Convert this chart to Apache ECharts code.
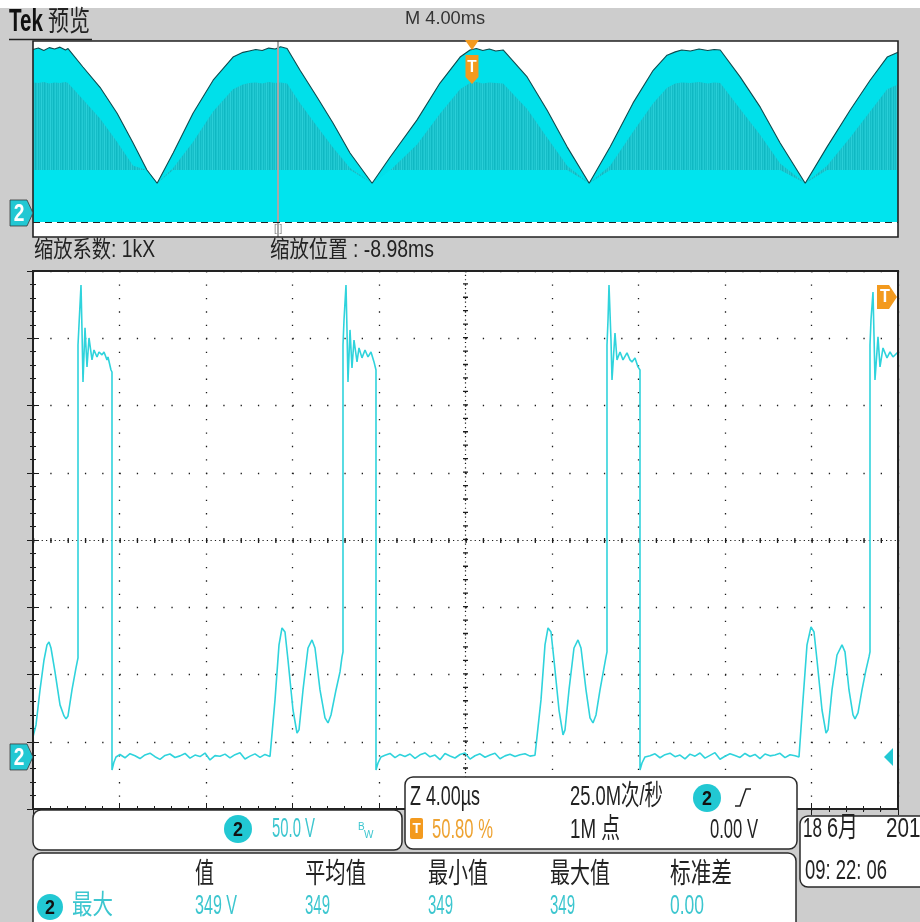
<!DOCTYPE html>
<html><head><meta charset="utf-8">
<script src="https://cdn.jsdelivr.net/npm/echarts@6/dist/echarts.min.js"></script>
<style>html,body{margin:0;padding:0;background:#cdcdcd}#c{width:920px;height:922px}</style>
</head><body><div id="c"></div>
<script>
// ===== Overview (预览) record: 40 ms, envelope of the pulse train =====
const overviewTimeMs = [0,0.25,0.5,0.75,1.0,1.25,1.5,1.62, 2.31,3.10,3.89,4.63,5.27,5.74, 6.48,7.40,8.33,9.25,9.71,
  10.0,10.3,10.6,10.9,11.2,11.45,11.75, 12.35,13.14,13.88,14.66,15.68, 16.51,17.76,18.82,19.75,
  20.21,20.5,20.8,21.1,21.4,21.74, 22.85,23.77,24.70,25.72, 26.69,27.75,28.68,29.32,
  29.7,30.0,30.4,30.8,31.2,31.5,31.78, 32.70,33.63,34.55,35.71, 36.72,37.79,38.71,39.50,40.0];
const overviewEnvelopeV = [346,349,344,350,347,351,345,348, 309,266,211,148,91,63, 127,211,281,330,340,
  343,346,344,349,347,352,348, 302,245,190,127,63, 118,197,275,330,
  345,348,344,347,343,345, 288,218,140,63, 140,233,302,334,
  341,345,343,347,344,346,345, 288,224,148,63, 140,218,281,330,340];
const overviewPlateauV = [276,275,277,274,276,275,277,275, 240,200,150,100,91,63, 95,150,215,262,272,
  275,276,274,277,275,276,274, 232,183,138,95,63, 90,145,210,262,
  275,277,274,276,275,274, 220,160,100,63, 100,172,232,265,
  274,276,275,277,274,276,275, 220,165,105,63, 100,160,215,262,272];
const overviewRingLevelV = 91;
const overviewFloorV = -19;
const overviewZoomPosMs = 11.32;
const overviewTriggerMs = 20.3;

// ===== Zoomed window: 4.00 us/div, 50.0 V/div =====
const cycle1TimeUs = [0,0.139,0.324,0.509,0.647,0.740,0.832,1.017,1.249,1.434,1.526,1.619,1.803,1.988,2.081,
  2.081,2.127,2.220,2.266,2.312,2.405,2.497,2.590,2.728,2.821,2.960,3.052,3.191,3.283,3.422,3.468,3.607,3.653,
  3.653,3.746,3.838,
  4.023,4.254,4.486,4.717,4.948,5.179,5.410,5.642,5.873,6.104,6.335,6.566,6.798,7.029,7.260,7.491,7.723,7.954,
  8.185,8.416,8.647,8.879,9.110,9.341,9.572,9.803,10.035,10.266,10.497,10.728,10.960];
const cycle1Volts = [14.9,23.8,49.8,72.1,83.3,85.5,81.0,63.2,38.7,30.5,28.3,30.5,49.8,66.2,73.6,
  306.3,321.2,350.9,317.5,278.8,319.0,290.0,311.5,295.2,302.6,297.4,301.1,298.9,301.1,295.2,297.4,287.7,286.2,
  -9.7,-3.7,0,
  1.8,-0.6,2.4,0.9,-1.2,1.5,2.8,0.2,-1.8,1.1,2.2,-0.4,0.8,2.6,-0.9,1.4,0.3,2.9,-2.2,1.0,0.5,2.1,-0.7,1.7,3.1,
  -1.5,0.6,2.3,-0.3,1.9,0.4];
const cycle2TimeUs = [11.006,11.191,11.376,11.514,11.653,11.792,12.023,12.208,12.301,12.486,12.717,12.902,13.040,
  13.272,13.503,13.642,13.780,14.012,14.197,14.289,14.335,14.335,
  14.382,14.474,14.520,14.566,14.659,14.751,14.844,14.983,15.075,15.214,15.353,15.491,15.630,15.769,15.861,
  15.861,15.954,16.092,
  16.277,16.509,16.740,16.971,17.202,17.434,17.665,17.896,18.127,18.358,18.590,18.821,19.052,19.283,19.514,
  19.746,19.977,20.208,20.439,20.671,20.902,21.133,21.364,21.595,21.827,22.058,22.289,22.520,22.751,22.983,23.214];
const cycle2Volts = [0,42.4,83.3,95.9,92.9,72.1,34.9,17.8,20.1,49.8,81.0,87.0,81.0,49.8,29.0,25.3,31.2,49.8,63.2,74.4,78.1,306.3,
  324.9,350.9,317.5,278.8,317.5,289.2,310.0,293.7,304.1,296.7,302.6,297.4,301.1,293.7,287.7,
  -9.7,-4.5,0,
  1.2,2.6,-0.5,1.9,0.4,2.2,-1.1,1.6,3.0,0.1,1.4,-2.0,2.5,0.7,-0.8,1.8,2.9,-1.6,0.9,2.3,-0.2,1.5,2.7,-1.3,0.8,
  2.0,0.3,1.7,2.4,0.6,1.3];
const cycle3TimeUs = [23.306,23.491,23.676,23.815,23.954,24.092,24.324,24.509,24.601,24.786,25.017,25.202,25.341,
  25.572,25.757,25.896,26.035,26.220,26.405,26.497,26.543,26.543,
  26.590,26.636,26.728,26.775,26.913,27.006,27.145,27.283,27.468,27.607,27.699,27.838,27.977,28.069,
  28.069,28.162,28.301,
  28.532,28.763,28.994,29.225,29.457,29.688,29.919,30.150,30.382,30.613,30.844,31.075,31.306,31.538,31.769,
  32.000,32.231,32.462,32.694,32.925,33.156,33.387,33.618,33.850,34.081,34.312,34.543,34.775,35.006,35.237];
const cycle3Volts = [0,42.4,83.3,95.9,92.9,72.1,34.9,16.4,20.1,49.8,81.0,87.0,81.0,49.8,29.0,25.3,31.2,49.8,66.2,74.4,78.1,306.3,
  324.9,350.9,310.0,280.3,315.2,295.2,301.1,295.2,300.4,295.2,293.7,296.7,290.0,287.7,
  -9.7,-4.5,0,
  0.9,2.3,-0.6,1.7,2.8,0.2,1.4,-1.4,2.1,0.6,2.9,-0.9,1.2,3.2,-1.7,0.5,2.4,1.0,-0.4,2.6,0.3,1.9,-1.2,2.2,0.8,
  1.5,2.7,-0.5,1.6,0.9];
const cycle4TimeUs = [35.422,35.607,35.792,35.977,36.116,36.254,36.486,36.671,36.763,36.948,37.179,37.410,37.549,
  37.734,37.919,38.012,38.150,38.335,38.520,38.659,38.705,38.705,
  38.751,38.844,38.890,38.936,39.075,39.168,39.306,39.491,39.630,39.769,40.0];
const cycle4Volts = [0,42.4,83.3,96.7,92.9,72.1,34.9,17.8,20.1,49.8,75.8,83.3,78.1,49.8,31.2,28.3,32.7,49.8,64.7,74.4,78.1,306.3,
  324.9,345.7,313.8,280.3,312.3,290.0,304.1,296.7,301.1,297.4,301.1];

const mainTimeRangeUs = [0, 40];
const mainVoltRange = [-38.7, 361.3];
const overviewVoltRange = [-50.8, 364];

// ===== Readouts =====
const headerTitle = ['Tek', '预览'];
const timebaseText = 'M 4.00ms';
const zoomFactorText = '缩放系数: 1kX';
const zoomPosText = '缩放位置 : -8.98ms';
const channelScaleText = '50.0 V';
const acqTexts = ['Z 4.00µs', '25.0M次/秒', '50.80 %', '1M 点', '0.00 V'];
const dateTexts = ['18', '6月', '2019', '09: 22: 06'];
const measHeaders = ['值', '平均值', '最小值', '最大值', '标准差'];
const measValues = ['349 V', '349', '349', '349', '0.00'];
const measLabel = '最大';

// ---------------------------------------------------------------
const CYAN = '#22c8d3', CYAN_TXT = '#3cc6cf', ORANGE = '#f39a1e', ORANGE_TXT = '#eea332';
const DARK = '#222';
const FONT = "'Liberation Sans','Noto Sans CJK SC',sans-serif";
const mctx = document.createElement('canvas').getContext('2d');
function fitText(text, x, cy, size, width, color, weight) {
  weight = weight || 'normal';
  mctx.font = weight + ' ' + size + 'px ' + FONT;
  const w = mctx.measureText(text).width || 1;
  return {type:'text', x:x, y:cy, scaleX: width / w, z:130, silent:true,
    style:{text:text, fill:color, fontSize:size, fontFamily:FONT, fontWeight:weight,
      verticalAlign:'middle', textVerticalAlign:'middle', align:'left'}};
}
function centerText(text, cx, cy, size, color, sx) {
  return {type:'text', x:cx, y:cy, scaleX: sx || 1, z:140, silent:true,
    style:{text:text, fill:color, fontSize:size, fontFamily:FONT, fontWeight:'bold',
      align:'center', verticalAlign:'middle', textVerticalAlign:'middle', textAlign:'center'}};
}
function panel(x, y, w, h) {
  return {type:'rect', z:110, silent:true, shape:{x:x, y:y, width:w, height:h, r:8},
    style:{fill:'#fff', stroke:'#2a2a2a', lineWidth:1.5}};
}
function badge(cx, cy, r) {
  return [{type:'circle', z:120, silent:true, shape:{cx:cx, cy:cy, r:r}, style:{fill:CYAN}},
          centerText('2', cx, cy + 1, 21, '#111', 0.85)];
}
function pairs(ts, vs) { const n = Math.min(ts.length, vs.length); const o = []; for (let i = 0; i < n; i++) o.push([ts[i], vs[i]]); return o; }

const mainData = [].concat(pairs(cycle1TimeUs, cycle1Volts), pairs(cycle2TimeUs, cycle2Volts),
  pairs(cycle3TimeUs, cycle3Volts), pairs(cycle4TimeUs, cycle4Volts));
const envData = pairs(overviewTimeMs, overviewEnvelopeV);
const plateauData = pairs(overviewTimeMs, overviewPlateauV);
const ringData = overviewTimeMs.map((t, i) => [t, Math.min(overviewEnvelopeV[i], overviewRingLevelV)]);

// stripe pattern for the dim (rarely hit) intensity band
const STRIPE_SHADES = ['#19c2cc','#24cbd4','#12bbc5','#1ec7d0','#16bec8','#2acfd8','#14bcc6','#20c9d2','#0fb8c2'];
const stripe = document.createElement('canvas'); stripe.width = STRIPE_SHADES.length; stripe.height = 4;
const sctx = stripe.getContext('2d');
STRIPE_SHADES.forEach((c, i) => { sctx.fillStyle = c; sctx.fillRect(i, 0, 1, 4); });

const GD = '#1c1c1c';
const tickCfg = {show:true, inside:true, length:6, lineStyle:{color:GD, width:1}};
const minorCfg = {show:true, splitNumber:5, length:3, lineStyle:{color:GD, width:1}};

const chart = echarts.init(document.getElementById('c'), null, {renderer:'canvas', width:920, height:922});
const option = {
  animation:false,
  backgroundColor:'#cdcdcd',
  grid:[
    {left:33, top:41, width:865, height:196, show:true, backgroundColor:'#fff', borderWidth:0},
    {left:33, top:271, width:865, height:538, show:true, backgroundColor:'#fff', borderWidth:0}
  ],
  xAxis:[
    {gridIndex:0, type:'value', min:0, max:40, show:false},
    {gridIndex:1, type:'value', min:0, max:10, interval:1, position:'bottom',
      axisLine:{show:false}, axisLabel:{show:false}, axisTick:tickCfg, minorTick:minorCfg,
      splitLine:{show:true, lineStyle:{color:GD, width:1.3, type:[1.3, 12.15]}}},
    {gridIndex:1, type:'value', min:0, max:10, interval:1, position:'top',
      axisLine:{show:false}, axisLabel:{show:false}, axisTick:tickCfg, minorTick:minorCfg, splitLine:{show:false}},
    {gridIndex:1, type:'value', min:mainTimeRangeUs[0], max:mainTimeRangeUs[1], show:false}
  ],
  yAxis:[
    {gridIndex:0, type:'value', min:overviewVoltRange[0], max:overviewVoltRange[1], show:false},
    {gridIndex:1, type:'value', min:0, max:8, interval:1, position:'left',
      axisLine:{show:false}, axisLabel:{show:false}, axisTick:tickCfg, minorTick:minorCfg,
      splitLine:{show:true, lineStyle:{color:GD, width:1.3, type:[1.3, 16.0]}}},
    {gridIndex:1, type:'value', min:0, max:8, interval:1, position:'right',
      axisLine:{show:false}, axisLabel:{show:false}, axisTick:tickCfg, minorTick:minorCfg, splitLine:{show:false}},
    {gridIndex:1, type:'value', min:mainVoltRange[0], max:mainVoltRange[1], show:false}
  ],
  series:[
    {type:'line', xAxisIndex:0, yAxisIndex:0, data:envData, showSymbol:false, silent:true,
      lineStyle:{color:'#0d4a4e', width:1.1}, areaStyle:{color:'#00e0ea', opacity:1, origin:overviewFloorV}},
    {type:'line', xAxisIndex:0, yAxisIndex:0, data:plateauData, showSymbol:false, silent:true,
      lineStyle:{width:0, opacity:0}, areaStyle:{color:{image:stripe, repeat:'repeat'}, opacity:1, origin:overviewFloorV}},
    {type:'line', xAxisIndex:0, yAxisIndex:0, data:ringData, showSymbol:false, silent:true,
      lineStyle:{width:0, opacity:0}, areaStyle:{color:'#00e4ee', opacity:1, origin:overviewFloorV},
      markLine:{silent:true, symbol:'none', label:{show:false}, animation:false,
        data:[
          {xAxis:overviewZoomPosMs, lineStyle:{color:'#a8a8a8', width:2, type:'solid'}},
          {yAxis:overviewFloorV, lineStyle:{color:'#222', width:1.2, type:[7,5]}}
        ]}},
    {type:'line', xAxisIndex:1, yAxisIndex:1, data:[[5,4]], showSymbol:false, silent:true, lineStyle:{opacity:0},
      markLine:{silent:true, symbol:'none', label:{show:false}, animation:false,
        data:[
          {xAxis:5, lineStyle:{color:GD, width:1.2, type:[1.2, 3.28]}},
          {yAxis:4, lineStyle:{color:GD, width:1.2, type:[1.2, 3.13]}}
        ]}},
    {type:'line', xAxisIndex:1, yAxisIndex:1, data:[[5,4]], showSymbol:false, silent:true, lineStyle:{opacity:0},
      markLine:{silent:true, symbol:'none', label:{show:false}, animation:false,
        data:[{xAxis:5, lineStyle:{color:GD, width:5, type:[1.3, 12.15]}}]}},
    {type:'line', xAxisIndex:1, yAxisIndex:1, data:[[5,4]], showSymbol:false, silent:true, lineStyle:{opacity:0},
      markLine:{silent:true, symbol:'none', label:{show:false}, animation:false,
        data:[{yAxis:4, lineStyle:{color:GD, width:5, type:[1.3, 16.0]}}]}},
    {type:'line', xAxisIndex:3, yAxisIndex:3, data:mainData, showSymbol:false, silent:true,
      lineStyle:{color:'#2fd3dc', width:1.6}, z:5}
  ]
};
chart.setOption(option);

// ---- annotations placed from the axes ----
const gndMain = chart.convertToPixel({yAxisIndex:3}, 0);
const gndOver = chart.convertToPixel({yAxisIndex:0}, 0);
const trigX = chart.convertToPixel({xAxisIndex:0}, overviewTriggerMs);

function chMarker(cy) {
  return [
    {type:'polygon', z:120, silent:true, shape:{points:[[10,cy-13],[27,cy-13],[33,cy],[27,cy+13],[10,cy+13]]},
      style:{fill:CYAN, stroke:'#3a3a3a', lineWidth:0.8}},
    centerText('2', 19, cy + 1, 24, '#fff', 0.8)
  ];
}

let g = [];
g.push({type:'rect', z:-5, silent:true, shape:{x:0, y:0, width:920, height:8}, style:{fill:'#fff'}});
g.push({type:'line', z:60, silent:true, shape:{x1:9, y1:39.5, x2:92, y2:39.5}, style:{stroke:'#222', lineWidth:1.5}});
// frames
g.push({type:'rect', z:60, silent:true, shape:{x:33, y:41, width:865, height:196}, style:{fill:'none', stroke:'#222', lineWidth:1.6}});
g.push({type:'rect', z:60, silent:true, shape:{x:33, y:271, width:865, height:538}, style:{fill:'none', stroke:'#222', lineWidth:2}});
// header
g.push(fitText(headerTitle[0], 9, 22, 31, 34, '#111', 'bold'));
g.push(fitText(headerTitle[1], 48, 23, 28, 42, '#222'));
g.push(fitText(timebaseText, 405, 19, 19, 80, '#333'));
g.push(fitText(zoomFactorText, 34, 251, 23, 121, DARK));
g.push(fitText(zoomPosText, 270, 251, 23, 164, DARK));
g.push({type:'text', x:274, y:229, z:70, silent:true, style:{text:'[ ]', fill:'#8a8a8a', fontSize:10, fontFamily:FONT, verticalAlign:'middle'}});
// overview trigger marker
g.push({type:'polygon', z:120, silent:true, shape:{points:[[trigX-7,40],[trigX+7,40],[trigX,50]]}, style:{fill:ORANGE}});
g.push({type:'polygon', z:120, silent:true, shape:{points:[[trigX-6.5,55],[trigX+6.5,55],[trigX+6.5,77],[trigX,84],[trigX-6.5,77]]}, style:{fill:ORANGE}});
g.push(centerText('T', trigX, 67, 17, '#fff', 0.9));
// channel ground markers
g = g.concat(chMarker(gndOver), chMarker(gndMain));
// trigger level arrow on right
g.push({type:'polygon', z:120, silent:true, shape:{points:[[884,gndMain],[893,gndMain-9],[893,gndMain+9]]}, style:{fill:CYAN}});
// trigger position marker (right, top)
g.push({type:'polygon', z:120, silent:true, shape:{points:[[877,285],[889,285],[897,297],[889,309],[877,309]]}, style:{fill:ORANGE}});
g.push(centerText('T', 885, 297, 18, '#fff', 0.9));
// bottom panels
g.push(panel(33, 810, 369, 40));
g.push(panel(405, 777, 392, 72));
g.push(panel(800, 816, 140, 71));
g.push(panel(33, 853, 763, 90));
// channel panel
g = g.concat(badge(238, 829, 14));
g.push(fitText(channelScaleText, 272, 829, 28, 43, CYAN_TXT));
g.push({type:'text', x:358, y:827, z:130, silent:true, style:{text:'B', fill:CYAN_TXT, fontSize:10, fontFamily:FONT, verticalAlign:'middle'}});
g.push({type:'text', x:364, y:835, z:130, silent:true, style:{text:'W', fill:CYAN_TXT, fontSize:10, fontFamily:FONT, verticalAlign:'middle'}});
// acquisition panel
g.push(fitText(acqTexts[0], 410, 797, 28, 70, DARK));
g.push(fitText(acqTexts[1], 570, 797, 28, 93, DARK));
g = g.concat(badge(707, 798, 14));
g.push({type:'polyline', z:130, silent:true, shape:{points:[[735,806],[740,806],[746,789],[751,789]]}, style:{stroke:'#222', lineWidth:1.5, fill:'none'}});
g.push({type:'rect', z:120, silent:true, shape:{x:410, y:818, width:13, height:21, r:2}, style:{fill:ORANGE}});
g.push(centerText('T', 416.5, 829, 15, '#fff', 0.9));
g.push(fitText(acqTexts[2], 432, 830, 28, 61, ORANGE_TXT));
g.push(fitText(acqTexts[3], 570, 830, 28, 50, DARK));
g.push(fitText(acqTexts[4], 710, 830, 28, 48, DARK));
// date panel
g.push(fitText(dateTexts[0], 803, 829, 28, 19, DARK));
g.push(fitText(dateTexts[1], 827, 829, 28, 31, DARK));
g.push(fitText(dateTexts[2], 886, 829, 28, 46, DARK));
g.push(fitText(dateTexts[3], 805, 871, 28, 82, DARK));
// measurement panel
const headX = [195, 305, 428, 550, 670], headW = [19, 61, 60, 60, 62];
const valW = [42, 25, 25, 25, 34];
measHeaders.forEach((h, i) => g.push(fitText(h, headX[i], 875, 28, headW[i], DARK)));
measValues.forEach((v, i) => g.push(fitText(v, headX[i], 907, 27, valW[i], CYAN_TXT)));
g = g.concat(badge(50, 907, 13));
g.push(fitText(measLabel, 72, 907, 27, 41, CYAN_TXT));

chart.setOption({graphic:{elements:g}});
</script></body></html>
